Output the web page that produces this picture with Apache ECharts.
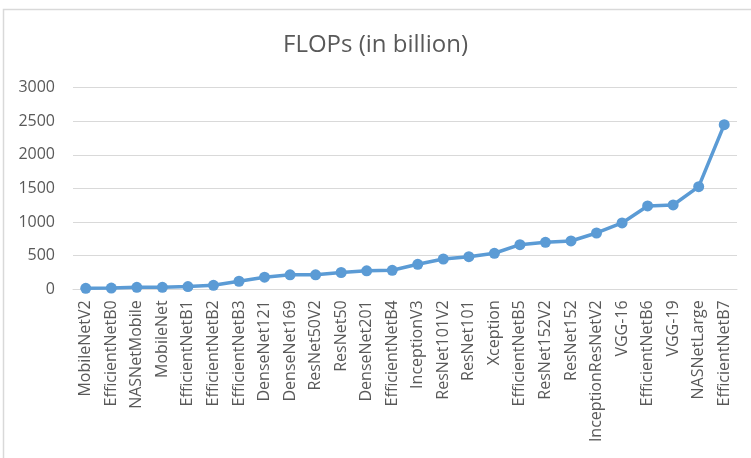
<!DOCTYPE html>
<html><head><meta charset="utf-8">
<script src="https://cdn.jsdelivr.net/npm/echarts@6/dist/echarts.min.js"></script>
<style>html,body{margin:0;padding:0;background:#fff}#c{width:751px;height:458px}</style>
</head><body><div id="c"></div>
<script>
const categories = ["MobileNetV2","EfficientNetB0","NASNetMobile","MobileNet","EfficientNetB1","EfficientNetB2","EfficientNetB3","DenseNet121","DenseNet169","ResNet50V2","ResNet50","DenseNet201","EfficientNetB4","InceptionV3","ResNet101V2","ResNet101","Xception","EfficientNetB5","ResNet152V2","ResNet152","InceptionResNetV2","VGG-16","EfficientNetB6","VGG-19","NASNetLarge","EfficientNetB7"];
const flops = [15,18,30,30,40,60,120,180,215,215,250,275,283,372,451,486,536,664,699,719,838,987,1240,1255,1527,2450];
const yTicks = [0,500,1000,1500,2000,2500,3000];
const chart = echarts.init(document.getElementById('c'));
const font = "'Open Sans', sans-serif";
chart.setOption({
  animation:false,
  title:{text:'FLOPs (in billion)',left:'center',top:28,textStyle:{fontFamily:font,fontSize:24,fontWeight:'normal',color:'#595959'}},
  grid:{left:73,right:14,top:87.7,bottom:168.7,containLabel:false},
  graphic:[{type:'rect',shape:{x:3.5,y:9.5,width:800,height:500},style:{fill:'none',stroke:'#d9d9d9',lineWidth:1.5},silent:true}],
  xAxis:{type:'category',data:categories,boundaryGap:true,
    axisLine:{lineStyle:{color:'#d9d9d9',width:1}},axisTick:{show:false},
    axisLabel:{rotate:90,interval:0,margin:11,fontFamily:font,fontSize:16,color:'#595959'}},
  yAxis:{type:'value',min:yTicks[0],max:yTicks[yTicks.length-1],interval:500,
    axisLine:{show:false},axisTick:{show:false},
    splitLine:{lineStyle:{color:'#d9d9d9',width:1}},
    axisLabel:{margin:18,fontFamily:font,fontSize:16,color:'#595959',formatter:v=>String(v)}},
  series:[{type:'line',data:flops,symbol:'circle',symbolSize:11,
    lineStyle:{color:'#5b9bd5',width:3.5},itemStyle:{color:'#5b9bd5'}}]
});
</script></body></html>
